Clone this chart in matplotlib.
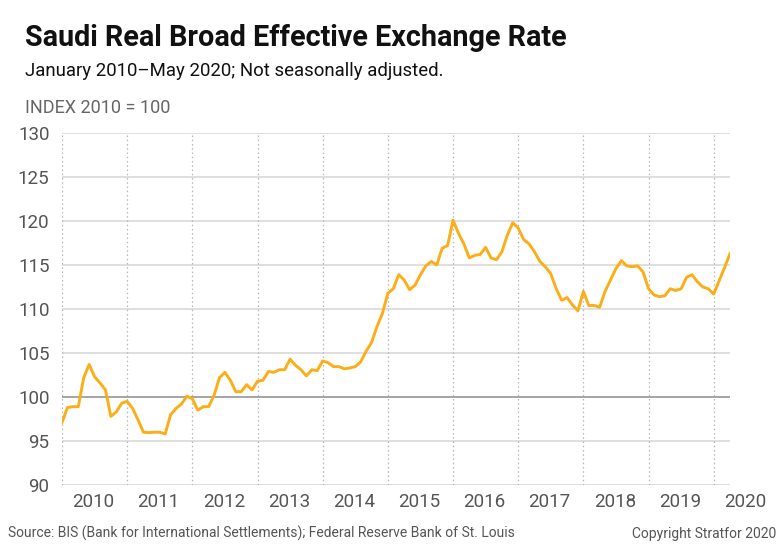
import matplotlib
matplotlib.use("Agg")
import matplotlib.pyplot as plt
import matplotlib.transforms as mtransforms
from matplotlib import font_manager as fm

# ---- data (monthly, Jan 2010 onwards) ----
values = [
    97.1, 98.8, 98.9, 98.9, 102.2, 103.7, 102.3, 101.6, 100.8, 97.8, 98.3, 99.3,   # 2010
    99.5, 98.7, 97.4, 96.0, 95.95, 96.0, 96.0, 95.8, 98.0, 98.7, 99.2, 100.1,      # 2011
    99.8, 98.5, 98.9, 98.9, 100.2, 102.2, 102.8, 101.9, 100.6, 100.6, 101.4, 100.8, # 2012
    101.8, 101.9, 102.9, 102.8, 103.1, 103.1, 104.3, 103.6, 103.1, 102.4, 103.1, 103.0, # 2013
    104.1, 103.9, 103.45, 103.45, 103.2, 103.3, 103.45, 104.0, 105.2, 106.2, 108.0, 109.5, # 2014
    111.8, 112.3, 113.9, 113.3, 112.2, 112.7, 113.9, 114.9, 115.4, 115.0, 116.9, 117.2, # 2015
    120.1, 118.6, 117.4, 115.8, 116.1, 116.2, 117.0, 115.8, 115.6, 116.5, 118.4, 119.8, # 2016
    119.2, 117.9, 117.4, 116.5, 115.4, 114.8, 114.0, 112.3, 111.0, 111.3, 110.45, 109.8, # 2017
    112.0, 110.4, 110.4, 110.2, 112.0, 113.3, 114.6, 115.5, 114.9, 114.8, 114.9, 114.2, # 2018
    112.3, 111.6, 111.4, 111.5, 112.3, 112.1, 112.3, 113.6, 113.9, 113.1, 112.5, 112.3, # 2019
    111.7, 113.2, 114.7, 116.3,                                                     # 2020
]
months = list(range(len(values)))
years = [2010, 2011, 2012, 2013, 2014, 2015, 2016, 2017, 2018, 2019, 2020]
yticks = [90, 95, 100, 105, 110, 115, 120, 125, 130]

title = "Saudi Real Broad Effective Exchange Rate"
subtitle = "January 2010\u2013May 2020; Not seasonally adjusted."
unit = "INDEX 2010 = 100"
source = "Source: BIS (Bank for International Settlements); Federal Reserve Bank of St. Louis"
copyright_txt = "Copyright Stratfor 2020"

names = {f.name for f in fm.fontManager.ttflist}
narrow = "Liberation Sans Narrow" if "Liberation Sans Narrow" in names else "Roboto"
plt.rcParams['font.family'] = [narrow, 'DejaVu Sans']

W, H = 784, 548
fig = plt.figure(figsize=(W / 100, H / 100), dpi=100)
L, R, T, B = 62, 730, 133, 485
ax = fig.add_axes([L / W, 1 - B / H, (R - L) / W, (B - T) / H])

ax.set_xlim(0, len(values) - 1)
ax.set_ylim(90, 130)

# grid
for v in yticks:
    if v == 100:
        ax.axhline(v, color="#8c8c8c", lw=1.1, zorder=2)
    else:
        ax.axhline(v, color="#d6d6d6", lw=1.1, zorder=1)
for i, yr in enumerate(years):
    ax.axvline(i * 12, color="#b5b5b5", lw=0.9, ls=(0, (1.2, 2.2)), zorder=1)

ax.plot(months, values, color="#FBAE17", lw=2.1, zorder=3, solid_joinstyle="round")

for s in ax.spines.values():
    s.set_visible(False)
ax.set_yticks(yticks)
ax.set_yticklabels([str(v) for v in yticks])
ax.tick_params(axis="y", length=0, pad=9, labelsize=13.5, labelcolor="#555555")
ax.set_xticks([])

# year labels centred within each year (2020 sits beyond the data)
trans = mtransforms.blended_transform_factory(ax.transData, ax.transAxes)
for i, yr in enumerate(years):
    ax.text(i * 12 + 5.8, 0, str(yr), transform=trans, ha="center", va="top",
            fontsize=13.5, color="#555555", clip_on=False,
            bbox=None).set_transform(trans + mtransforms.ScaledTranslation(0, -6 / 72, fig.dpi_scale_trans))

def ftext(x, y, s, **kw):
    fig.text(x / W, 1 - y / H, s, **kw)

ftext(25, 46, title, fontsize=20.7, fontweight="bold", color="#111111", va="baseline")
ftext(25, 76, subtitle, fontsize=13.4, color="#111111", va="baseline")
ftext(25, 113, unit, fontsize=13, color="#666666", va="baseline")
ftext(8, 538, source, fontsize=10, color="#555555", va="baseline")
ftext(776, 538, copyright_txt, fontsize=10, color="#555555", va="baseline", ha="right")

fig.savefig("out.png", dpi=100)
